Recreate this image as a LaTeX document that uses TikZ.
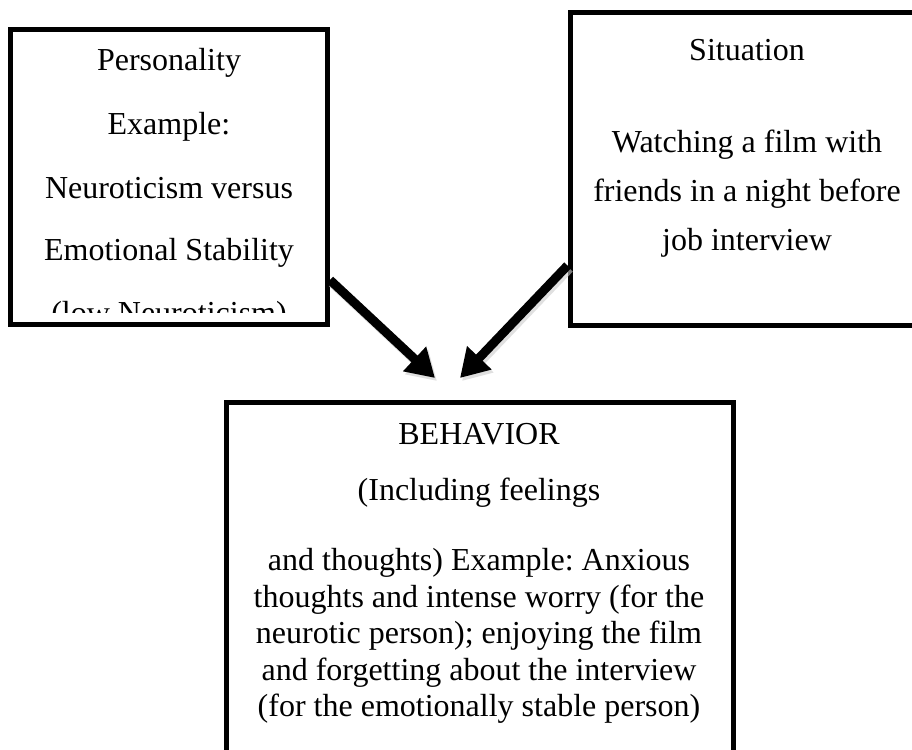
\documentclass[tikz,border=0pt]{standalone}
\usepackage{fontspec}
\setmainfont{Liberation Serif}
\usetikzlibrary{arrows.meta}
\frenchspacing
\begin{document}
\begin{tikzpicture}[x=1pt,y=-1pt,
  boxst/.style={draw=black, line width=5pt, rectangle, inner sep=0pt},
  txt/.style={font=\fontsize{32}{38}\selectfont, anchor=base, inner sep=0pt},
  arr/.style={line width=9pt, -{Triangle[length=28pt,width=32pt]}},
  arrshadow/.style={line width=9pt, draw=black!20, opacity=0.6, -{Triangle[length=28pt,width=32pt]}}
]
\clip (0,0) rectangle (912,749);
\fill[white] (0,0) rectangle (912,749);

% boxes
\node[boxst, minimum width=317pt, minimum height=295pt] (lbox) at (169,177) {};
\node[boxst, minimum width=354pt, minimum height=312.5pt] (rbox) at (747,168.75) {};
\node[boxst, minimum width=507pt, minimum height=420pt] (bbox) at (480,612.5) {};

% left box text
\node[txt] (p1) at (169,71) {Personality};
\node[txt] (p2) at (169,135) {Example:};
\node[txt] (p3) at (169,198) {Neuroticism versus};
\node[txt] (p4) at (169,260) {Emotional Stability};
\begin{scope}
  \clip (13,32) rectangle (325,312);
  \node[txt] (p5) at (169,323) {(low Neuroticism)};
\end{scope}

% right box text
\node[txt] (s1) at (747,61) {Situation};
\node[txt] (s2) at (747,152) {Watching a film with};
\node[txt] (s3) at (747,201) {friends in a night before};
\node[txt] (s4) at (747,250) {job interview};

% bottom box text
\node[txt] (b1) at (479,444) {BEHAVIOR};
\node[txt] (b2) at (479,500) {(Including feelings};
\node[txt] (b3) at (479,570) {and thoughts) Example: Anxious};
\node[txt] (b4) at (479,607) {thoughts and intense worry (for the};
\node[txt] (b5) at (479,643) {neurotic person); enjoying the film};
\node[txt] (b6) at (479,680) {and forgetting about the interview};
\node[txt] (b7) at (479,716) {(for the emotionally stable person)};

% arrows
\coordinate (la) at ([yshift=47pt]lbox.south east);
\coordinate (ra) at ([yshift=62pt]rbox.south west);
\coordinate (lt) at (435,378);
\coordinate (rt) at (460,378);
\draw[arrshadow] ([shift={(2,3)}]la) -- ([shift={(2,3)}]lt);
\draw[arrshadow] ([shift={(2,3)}]ra) -- ([shift={(2,3)}]rt);
\draw[arr] (la) -- (lt);
\draw[arr] (ra) -- (rt);
\end{tikzpicture}
\end{document}
